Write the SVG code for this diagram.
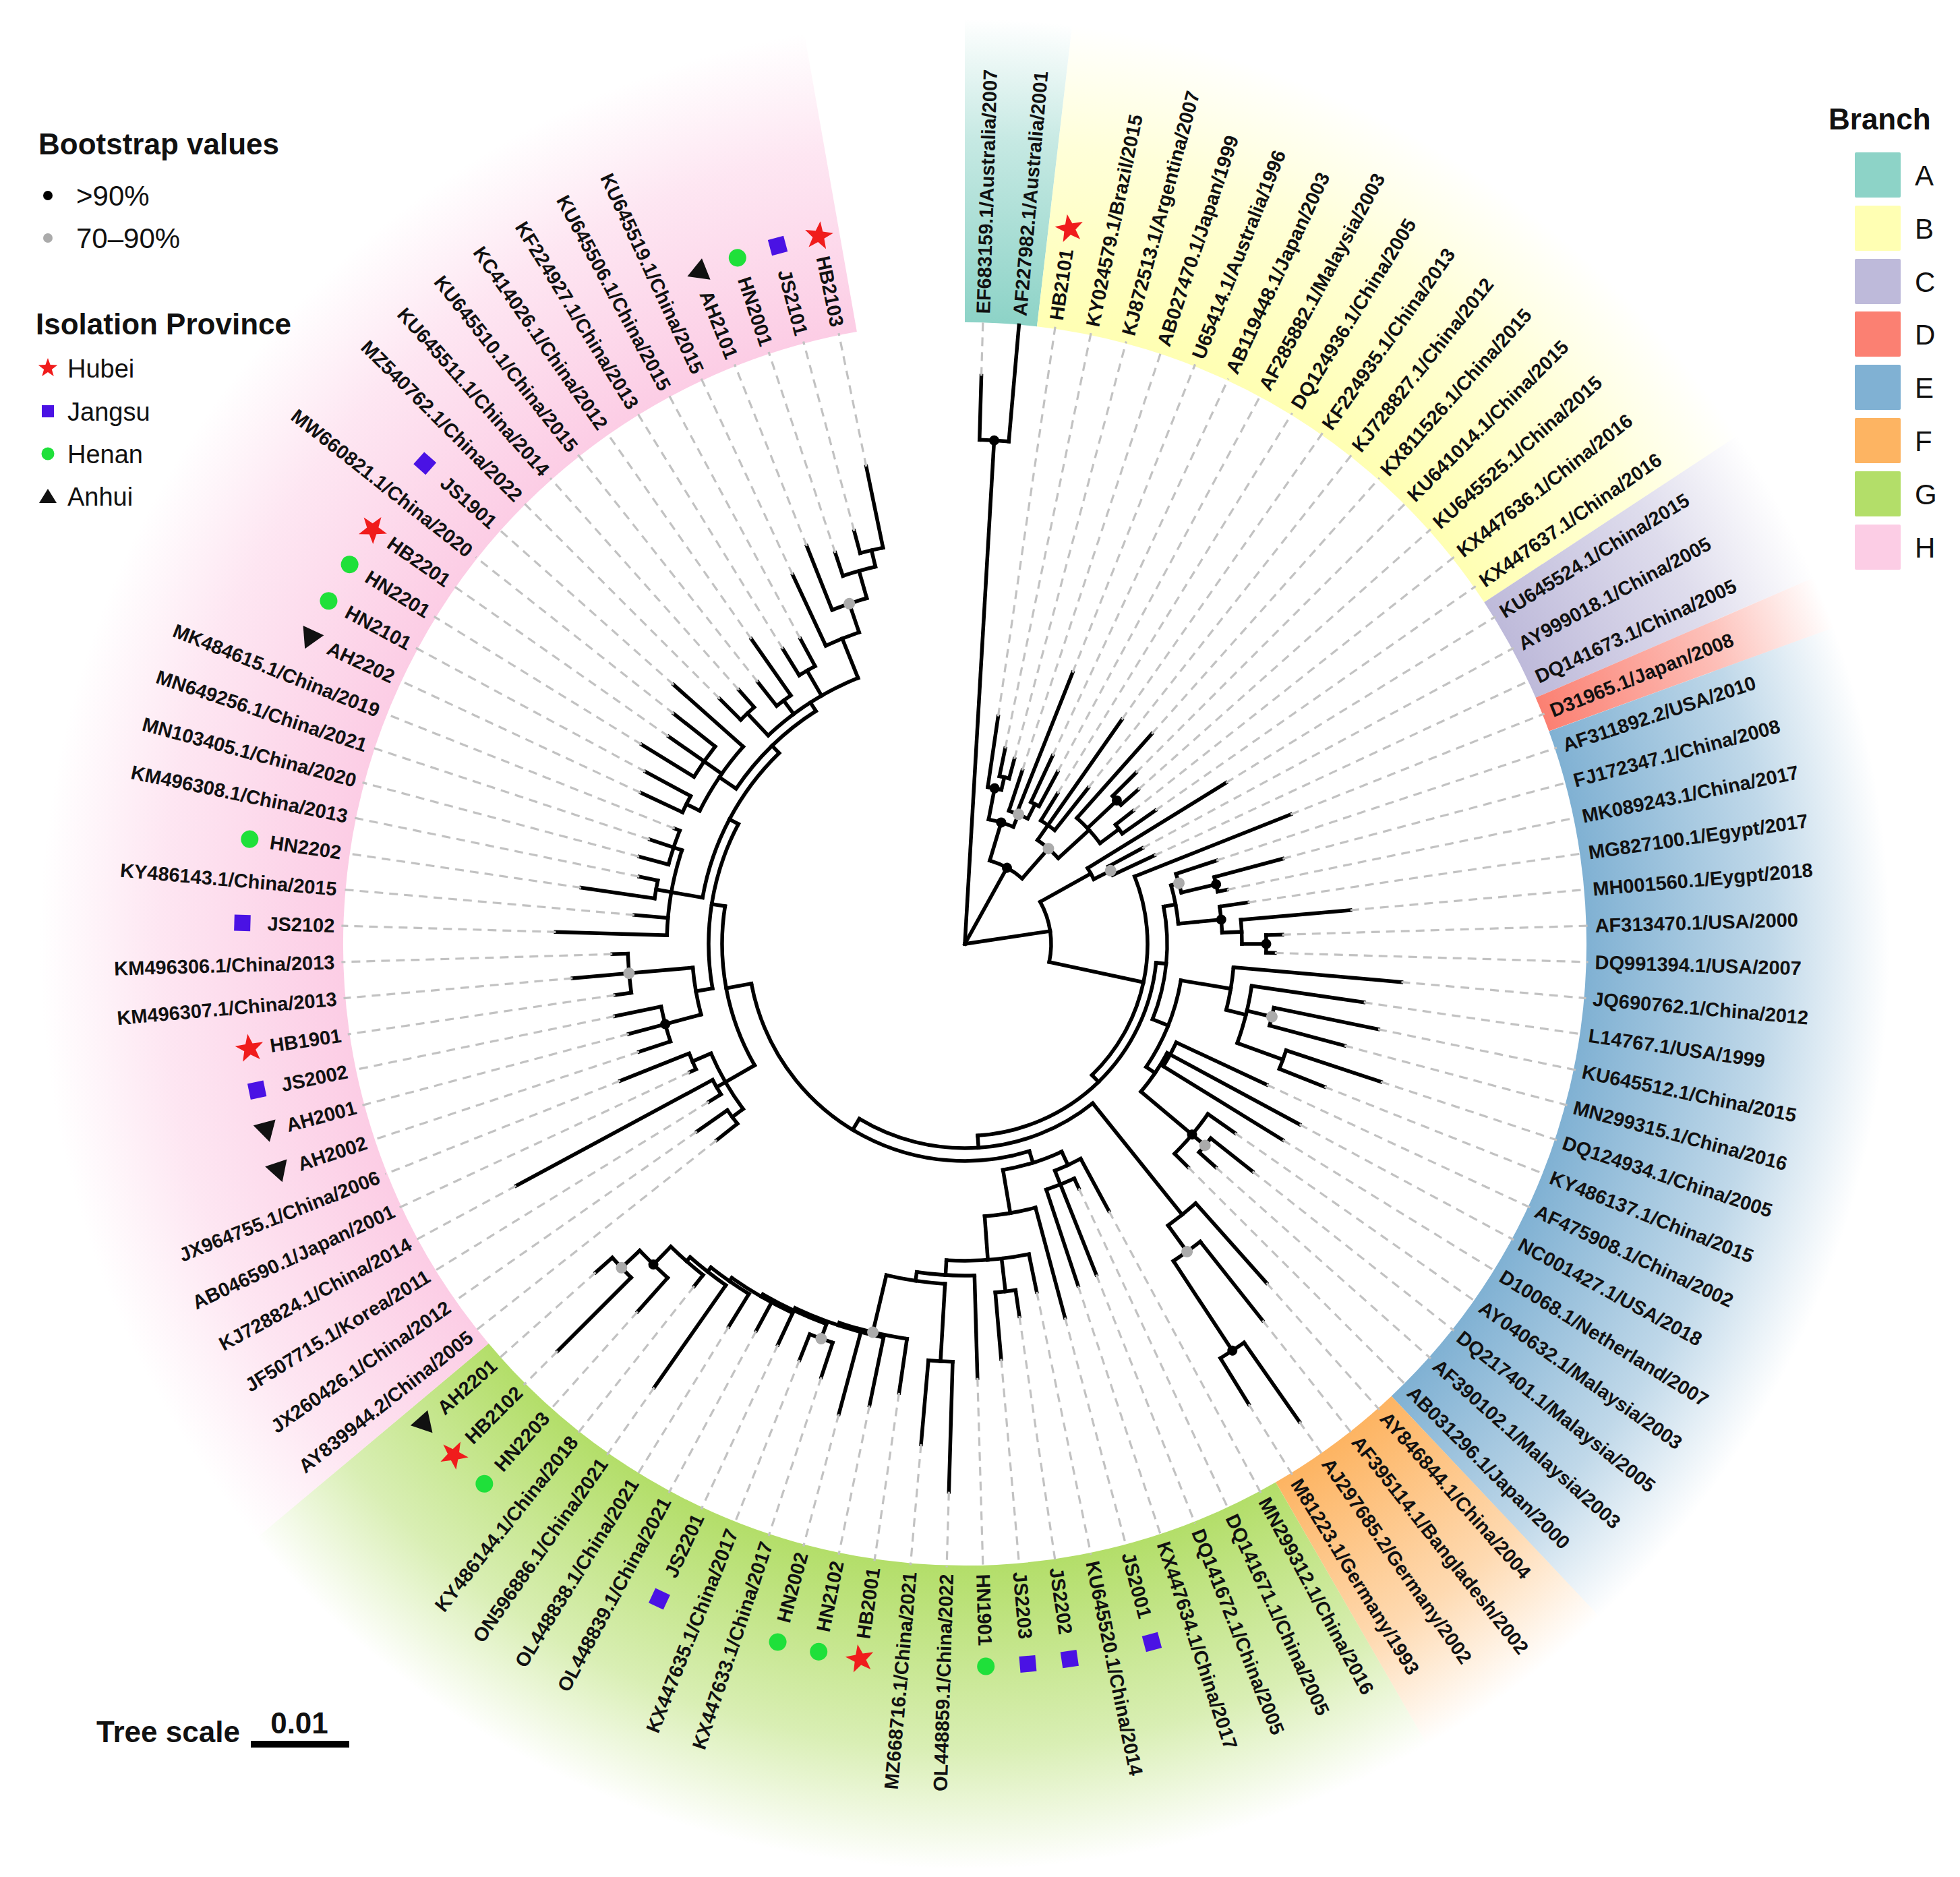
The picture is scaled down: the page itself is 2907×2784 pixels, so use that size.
<svg xmlns="http://www.w3.org/2000/svg" width="2907" height="2784" viewBox="0 0 2907 2784">
<style>
.tr path,.tr circle{fill:none;stroke:#000;stroke-width:5.5;stroke-linecap:square}
.tr .d{stroke:#c2c2c2;stroke-width:3.2;stroke-dasharray:13 9;stroke-linecap:butt}
.lb text{font-family:"Liberation Sans",Arial,sans-serif;font-weight:bold;font-size:29px;fill:#111}
.lb .l{text-anchor:end}
.kd{fill:#000}.gd{fill:#ababab}
.st{fill:#F01C1C}.sq{fill:#4A12E4}.ci{fill:#1FE03A}.tri{fill:#111}
.lg text{font-family:"Liberation Sans",Arial,sans-serif;fill:#111}
.lg .h{font-weight:bold;font-size:44px}
</style>
<defs>
<radialGradient id="gA" gradientUnits="userSpaceOnUse" cx="0" cy="0" r="1372"><stop offset=".672" stop-color="#8DD3C7"/><stop offset=".87" stop-color="#8DD3C7" stop-opacity=".5"/><stop offset="1" stop-color="#8DD3C7" stop-opacity="0"/></radialGradient>
<radialGradient id="gB" gradientUnits="userSpaceOnUse" cx="0" cy="0" r="1372"><stop offset=".672" stop-color="#FFFFB3"/><stop offset=".87" stop-color="#FFFFB3" stop-opacity=".5"/><stop offset="1" stop-color="#FFFFB3" stop-opacity="0"/></radialGradient>
<radialGradient id="gC" gradientUnits="userSpaceOnUse" cx="0" cy="0" r="1372"><stop offset=".672" stop-color="#BEBADA"/><stop offset=".87" stop-color="#BEBADA" stop-opacity=".5"/><stop offset="1" stop-color="#BEBADA" stop-opacity="0"/></radialGradient>
<radialGradient id="gD" gradientUnits="userSpaceOnUse" cx="0" cy="0" r="1372"><stop offset=".672" stop-color="#FB8072"/><stop offset=".87" stop-color="#FB8072" stop-opacity=".5"/><stop offset="1" stop-color="#FB8072" stop-opacity="0"/></radialGradient>
<radialGradient id="gE" gradientUnits="userSpaceOnUse" cx="0" cy="0" r="1372"><stop offset=".672" stop-color="#80B1D3"/><stop offset=".87" stop-color="#80B1D3" stop-opacity=".5"/><stop offset="1" stop-color="#80B1D3" stop-opacity="0"/></radialGradient>
<radialGradient id="gF" gradientUnits="userSpaceOnUse" cx="0" cy="0" r="1372"><stop offset=".672" stop-color="#FDB462"/><stop offset=".87" stop-color="#FDB462" stop-opacity=".5"/><stop offset="1" stop-color="#FDB462" stop-opacity="0"/></radialGradient>
<radialGradient id="gG" gradientUnits="userSpaceOnUse" cx="0" cy="0" r="1372"><stop offset=".672" stop-color="#B3DE69"/><stop offset=".87" stop-color="#B3DE69" stop-opacity=".5"/><stop offset="1" stop-color="#B3DE69" stop-opacity="0"/></radialGradient>
<radialGradient id="gH" gradientUnits="userSpaceOnUse" cx="0" cy="0" r="1372"><stop offset=".672" stop-color="#FCCDE5"/><stop offset=".87" stop-color="#FCCDE5" stop-opacity=".5"/><stop offset="1" stop-color="#FCCDE5" stop-opacity="0"/></radialGradient>
<path id="star" d="M0 -22L5.29 -7.28L20.92 -6.8L8.56 2.78L12.93 17.8L0 9L-12.93 17.8L-8.56 2.78L-20.92 -6.8L-5.29 -7.28Z"/>
</defs>
<rect width="2907" height="2784" fill="#fff"/>
<g id="wedges" transform="translate(1431 1400)" fill="none" stroke-width="450">
<circle r="1147" pathLength="360" stroke="url(#gA)" stroke-dasharray="6.667 360" transform="rotate(-90)"/>
<circle r="1147" pathLength="360" stroke="url(#gB)" stroke-dasharray="50 360" transform="rotate(-83.333)"/>
<circle r="1147" pathLength="360" stroke="url(#gC)" stroke-dasharray="10 360" transform="rotate(-33.333)"/>
<circle r="1147" pathLength="360" stroke="url(#gD)" stroke-dasharray="3.333 360" transform="rotate(-23.333)"/>
<circle r="1147" pathLength="360" stroke="url(#gE)" stroke-dasharray="66.667 360" transform="rotate(-20)"/>
<circle r="1147" pathLength="360" stroke="url(#gF)" stroke-dasharray="13.333 360" transform="rotate(46.667)"/>
<circle r="1147" pathLength="360" stroke="url(#gG)" stroke-dasharray="80 360" transform="rotate(60)"/>
<circle r="1147" pathLength="360" stroke="url(#gH)" stroke-dasharray="120 360" transform="rotate(140)"/>
</g>
<g id="connectors" class="tr" transform="translate(1431 1400)">
<path transform="rotate(3.333)" d="M0 0V-748"/>
<path transform="rotate(28.958)" d="M0 0V-129"/>
<path transform="rotate(81.48)" d="M0 0V-128"/>
<path transform="rotate(16.667)" d="M0-129V-188"/>
<path transform="rotate(10.833)" d="M0-188V-235"/>
<path transform="rotate(13.333)" d="M0-235V-254"/>
<path transform="rotate(22.5)" d="M0-188V-208"/>
<path transform="rotate(26.667)" d="M0-208V-232"/>
<path transform="rotate(41.25)" d="M0-129V-188"/>
<path transform="rotate(35)" d="M0-188V-215"/>
<path transform="rotate(47.5)" d="M0-188V-250"/>
<path transform="rotate(46.667)" d="M0-250V-310"/>
<path transform="rotate(53.333)" d="M0-250V-285"/>
<path transform="rotate(60.833)" d="M0-128V-214"/>
<path transform="rotate(63.333)" d="M0-214V-242"/>
<path transform="rotate(102.12)" d="M0-128V-271"/>
<path transform="rotate(135.9)" d="M0-271V-285"/>
<path transform="rotate(95.625)" d="M0-285V-300"/>
<path transform="rotate(79.375)" d="M0-300V-318"/>
<path transform="rotate(74.167)" d="M0-318V-330"/>
<path transform="rotate(76.667)" d="M0-330V-383"/>
<path transform="rotate(84.583)" d="M0-318V-382"/>
<path transform="rotate(87.5)" d="M0-382V-411"/>
<path transform="rotate(90)" d="M0-411V-447"/>
<path transform="rotate(111.875)" d="M0-300V-325"/>
<path transform="rotate(99.583)" d="M0-325V-400"/>
<path transform="rotate(104.167)" d="M0-400V-430"/>
<path transform="rotate(103.333)" d="M0-430V-468"/>
<path transform="rotate(110)" d="M0-430V-502"/>
<path transform="rotate(124.167)" d="M0-325V-341"/>
<path transform="rotate(118.333)" d="M0-341V-346"/>
<path transform="rotate(130)" d="M0-341V-465"/>
<path transform="rotate(176.17)" d="M0-285V-303"/>
<path transform="rotate(141.25)" d="M0-303V-515"/>
<path transform="rotate(144.167)" d="M0-515V-563"/>
<path transform="rotate(146.667)" d="M0-563V-722"/>
<path transform="rotate(211.09)" d="M0-303V-322"/>
<path transform="rotate(162.708)" d="M0-322V-340"/>
<path transform="rotate(155)" d="M0-340V-362"/>
<path transform="rotate(158.333)" d="M0-362V-384"/>
<path transform="rotate(170.417)" d="M0-340V-405"/>
<path transform="rotate(175.833)" d="M0-405V-470"/>
<path transform="rotate(173.333)" d="M0-470V-519"/>
<path transform="rotate(183.332)" d="M0-470V-492"/>
<path transform="rotate(188.33)" d="M0-492V-505"/>
<path transform="rotate(183.333)" d="M0-505V-620"/>
<path transform="rotate(193.327)" d="M0-505V-592"/>
<path transform="rotate(198.32)" d="M0-592V-596"/>
<path transform="rotate(204.974)" d="M0-596V-600"/>
<path transform="rotate(200)" d="M0-600V-623"/>
<path transform="rotate(209.948)" d="M0-600V-604"/>
<path transform="rotate(214.896)" d="M0-604V-610"/>
<path transform="rotate(218.125)" d="M0-610V-618"/>
<path transform="rotate(221.25)" d="M0-618V-626"/>
<path transform="rotate(224.167)" d="M0-626V-663"/>
<path transform="rotate(226.667)" d="M0-663V-700"/>
<path transform="rotate(259.47)" d="M0-322V-360"/>
<path transform="rotate(240)" d="M0-360V-425"/>
<path transform="rotate(233.333)" d="M0-410V-430"/>
<path transform="rotate(246.667)" d="M0-410V-440"/>
<path transform="rotate(278.95)" d="M0-360V-380"/>
<path transform="rotate(260)" d="M0-380V-405"/>
<path transform="rotate(255)" d="M0-405V-460"/>
<path transform="rotate(265)" d="M0-405V-500"/>
<path transform="rotate(297.89)" d="M0-380V-395"/>
<path transform="rotate(280)" d="M0-395V-465"/>
<path transform="rotate(288.333)" d="M0-442V-455"/>
<path transform="rotate(315.78)" d="M0-395V-410"/>
<path transform="rotate(304.167)" d="M0-410V-440"/>
<path transform="rotate(296.667)" d="M0-440V-462"/>
<path transform="rotate(305)" d="M0-440V-472"/>
<path transform="rotate(327.396)" d="M0-410V-425"/>
<path transform="rotate(316.667)" d="M0-425V-470"/>
<path transform="rotate(323.333)" d="M0-425V-450"/>
<path transform="rotate(330)" d="M0-425V-468"/>
<path transform="rotate(338.125)" d="M0-425V-488"/>
<path transform="rotate(341.25)" d="M0-488V-533"/>
<path transform="rotate(344.167)" d="M0-533V-575"/>
<path transform="rotate(346.667)" d="M0-575V-600"/>
<circle r="748" pathLength="360" stroke-dasharray="3.333 360" transform="rotate(-88.333)"/>
<circle r="129" pathLength="360" stroke-dasharray="24.583 360" transform="rotate(-73.333)"/>
<circle r="188" pathLength="360" stroke-dasharray="11.667 360" transform="rotate(-79.167)"/>
<circle r="235" pathLength="360" stroke-dasharray="5 360" transform="rotate(-81.667)"/>
<circle r="254" pathLength="360" stroke-dasharray="3.333 360" transform="rotate(-78.333)"/>
<circle r="208" pathLength="360" stroke-dasharray="8.333 360" transform="rotate(-71.667)"/>
<circle r="232" pathLength="360" stroke-dasharray="3.333 360" transform="rotate(-65)"/>
<circle r="188" pathLength="360" stroke-dasharray="12.5 360" transform="rotate(-55)"/>
<circle r="215" pathLength="360" stroke-dasharray="6.667 360" transform="rotate(-58.333)"/>
<circle r="250" pathLength="360" stroke-dasharray="11.667 360" transform="rotate(-48.333)"/>
<circle r="310" pathLength="360" stroke-dasharray="3.333 360" transform="rotate(-45)"/>
<circle r="285" pathLength="360" stroke-dasharray="3.333 360" transform="rotate(-38.333)"/>
<circle r="128" pathLength="360" stroke-dasharray="41.29 360" transform="rotate(-29.167)"/>
<circle r="214" pathLength="360" stroke-dasharray="5 360" transform="rotate(-31.667)"/>
<circle r="242" pathLength="360" stroke-dasharray="3.333 360" transform="rotate(-28.333)"/>
<circle r="271" pathLength="360" stroke-dasharray="67.57 360" transform="rotate(-21.667)"/>
<circle r="285" pathLength="360" stroke-dasharray="80.545 360" transform="rotate(5.625)"/>
<circle r="300" pathLength="360" stroke-dasharray="32.5 360" transform="rotate(-10.625)"/>
<circle r="318" pathLength="360" stroke-dasharray="10.416 360" transform="rotate(-15.833)"/>
<circle r="330" pathLength="360" stroke-dasharray="5 360" transform="rotate(-18.333)"/>
<circle r="383" pathLength="360" stroke-dasharray="3.333 360" transform="rotate(-15)"/>
<circle r="382" pathLength="360" stroke-dasharray="5.833 360" transform="rotate(-8.333)"/>
<circle r="411" pathLength="360" stroke-dasharray="5 360" transform="rotate(-5)"/>
<circle r="447" pathLength="360" stroke-dasharray="3.333 360" transform="rotate(-1.667)"/>
<circle r="325" pathLength="360" stroke-dasharray="24.584 360" transform="rotate(9.583)"/>
<circle r="400" pathLength="360" stroke-dasharray="9.167 360" transform="rotate(5)"/>
<circle r="430" pathLength="360" stroke-dasharray="11.667 360" transform="rotate(8.333)"/>
<circle r="468" pathLength="360" stroke-dasharray="3.333 360" transform="rotate(11.667)"/>
<circle r="502" pathLength="360" stroke-dasharray="3.333 360" transform="rotate(18.333)"/>
<circle r="341" pathLength="360" stroke-dasharray="11.667 360" transform="rotate(28.333)"/>
<circle r="346" pathLength="360" stroke-dasharray="6.667 360" transform="rotate(25)"/>
<circle r="440" pathLength="360" stroke-dasharray="10 360" transform="rotate(35)"/>
<circle r="465" pathLength="360" stroke-dasharray="3.333 360" transform="rotate(38.333)"/>
<circle r="303" pathLength="360" stroke-dasharray="69.84 360" transform="rotate(51.25)"/>
<circle r="515" pathLength="360" stroke-dasharray="5.833 360" transform="rotate(48.333)"/>
<circle r="563" pathLength="360" stroke-dasharray="5 360" transform="rotate(51.667)"/>
<circle r="722" pathLength="360" stroke-dasharray="3.333 360" transform="rotate(55)"/>
<circle r="322" pathLength="360" stroke-dasharray="96.762 360" transform="rotate(72.708)"/>
<circle r="340" pathLength="360" stroke-dasharray="15.417 360" transform="rotate(65)"/>
<circle r="362" pathLength="360" stroke-dasharray="6.667 360" transform="rotate(61.667)"/>
<circle r="384" pathLength="360" stroke-dasharray="6.667 360" transform="rotate(65)"/>
<circle r="405" pathLength="360" stroke-dasharray="10.833 360" transform="rotate(75)"/>
<circle r="470" pathLength="360" stroke-dasharray="15 360" transform="rotate(78.333)"/>
<circle r="519" pathLength="360" stroke-dasharray="3.333 360" transform="rotate(81.667)"/>
<circle r="492" pathLength="360" stroke-dasharray="10 360" transform="rotate(88.333)"/>
<circle r="505" pathLength="360" stroke-dasharray="9.994 360" transform="rotate(93.333)"/>
<circle r="620" pathLength="360" stroke-dasharray="3.333 360" transform="rotate(91.667)"/>
<circle r="592" pathLength="360" stroke-dasharray="9.987 360" transform="rotate(98.333)"/>
<circle r="596" pathLength="360" stroke-dasharray="13.307 360" transform="rotate(101.667)"/>
<circle r="600" pathLength="360" stroke-dasharray="9.948 360" transform="rotate(110)"/>
<circle r="623" pathLength="360" stroke-dasharray="3.333 360" transform="rotate(108.333)"/>
<circle r="604" pathLength="360" stroke-dasharray="9.896 360" transform="rotate(115)"/>
<circle r="610" pathLength="360" stroke-dasharray="6.458 360" transform="rotate(121.667)"/>
<circle r="618" pathLength="360" stroke-dasharray="6.25 360" transform="rotate(125)"/>
<circle r="626" pathLength="360" stroke-dasharray="5.833 360" transform="rotate(128.333)"/>
<circle r="663" pathLength="360" stroke-dasharray="5 360" transform="rotate(131.667)"/>
<circle r="700" pathLength="360" stroke-dasharray="3.333 360" transform="rotate(135)"/>
<circle r="360" pathLength="360" stroke-dasharray="38.95 360" transform="rotate(150)"/>
<circle r="410" pathLength="360" stroke-dasharray="13.333 360" transform="rotate(143.333)"/>
<circle r="430" pathLength="360" stroke-dasharray="3.333 360" transform="rotate(141.667)"/>
<circle r="425" pathLength="360" stroke-dasharray="3.333 360" transform="rotate(148.333)"/>
<circle r="440" pathLength="360" stroke-dasharray="3.333 360" transform="rotate(155)"/>
<circle r="380" pathLength="360" stroke-dasharray="37.89 360" transform="rotate(170)"/>
<circle r="405" pathLength="360" stroke-dasharray="10 360" transform="rotate(165)"/>
<circle r="460" pathLength="360" stroke-dasharray="6.667 360" transform="rotate(161.667)"/>
<circle r="500" pathLength="360" stroke-dasharray="6.667 360" transform="rotate(171.667)"/>
<circle r="395" pathLength="360" stroke-dasharray="35.78 360" transform="rotate(190)"/>
<circle r="442" pathLength="360" stroke-dasharray="16.667 360" transform="rotate(181.667)"/>
<circle r="465" pathLength="360" stroke-dasharray="3.333 360" transform="rotate(188.333)"/>
<circle r="455" pathLength="360" stroke-dasharray="6.667 360" transform="rotate(195)"/>
<circle r="410" pathLength="360" stroke-dasharray="23.229 360" transform="rotate(214.167)"/>
<circle r="440" pathLength="360" stroke-dasharray="15 360" transform="rotate(206.667)"/>
<circle r="462" pathLength="360" stroke-dasharray="3.333 360" transform="rotate(205)"/>
<circle r="472" pathLength="360" stroke-dasharray="6.667 360" transform="rotate(211.667)"/>
<circle r="425" pathLength="360" stroke-dasharray="21.458 360" transform="rotate(226.667)"/>
<circle r="470" pathLength="360" stroke-dasharray="3.333 360" transform="rotate(225)"/>
<circle r="450" pathLength="360" stroke-dasharray="3.333 360" transform="rotate(231.667)"/>
<circle r="468" pathLength="360" stroke-dasharray="3.333 360" transform="rotate(238.333)"/>
<circle r="488" pathLength="360" stroke-dasharray="6.25 360" transform="rotate(245)"/>
<circle r="533" pathLength="360" stroke-dasharray="5.833 360" transform="rotate(248.333)"/>
<circle r="575" pathLength="360" stroke-dasharray="5 360" transform="rotate(251.667)"/>
<circle r="600" pathLength="360" stroke-dasharray="3.333 360" transform="rotate(255)"/>
<g transform="rotate(1.667)"><path d="M0-748V-843"/><path class="d" d="M0-843V-925"/></g>
<g transform="rotate(5)"><path d="M0-748V-921"/></g>
<g transform="rotate(8.333)"><path d="M0-235V-341"/><path class="d" d="M0-341V-925"/></g>
<g transform="rotate(11.667)"><path d="M0-254V-296"/><path class="d" d="M0-296V-925"/></g>
<g transform="rotate(15)"><path d="M0-254V-284"/><path class="d" d="M0-284V-925"/></g>
<g transform="rotate(18.333)"><path d="M0-208V-271"/><path class="d" d="M0-271V-925"/></g>
<g transform="rotate(21.667)"><path d="M0-208V-433"/><path class="d" d="M0-433V-925"/></g>
<g transform="rotate(25)"><path d="M0-232V-308"/><path class="d" d="M0-308V-925"/></g>
<g transform="rotate(28.333)"><path d="M0-232V-290"/><path class="d" d="M0-290V-925"/></g>
<g transform="rotate(31.667)"><path d="M0-215V-262"/><path class="d" d="M0-262V-925"/></g>
<g transform="rotate(35)"><path d="M0-215V-406"/><path class="d" d="M0-406V-925"/></g>
<g transform="rotate(38.333)"><path d="M0-215V-295"/><path class="d" d="M0-295V-925"/></g>
<g transform="rotate(41.667)"><path d="M0-250V-417"/><path class="d" d="M0-417V-925"/></g>
<g transform="rotate(45)"><path d="M0-310V-359"/><path class="d" d="M0-359V-925"/></g>
<g transform="rotate(48.333)"><path d="M0-310V-344"/><path class="d" d="M0-344V-925"/></g>
<g transform="rotate(51.667)"><path d="M0-285V-318"/><path class="d" d="M0-318V-925"/></g>
<g transform="rotate(55)"><path d="M0-285V-345"/><path class="d" d="M0-345V-925"/></g>
<g transform="rotate(58.333)"><path d="M0-214V-455"/><path class="d" d="M0-455V-925"/></g>
<g transform="rotate(61.667)"><path d="M0-242V-299"/><path class="d" d="M0-299V-925"/></g>
<g transform="rotate(65)"><path d="M0-242V-310"/><path class="d" d="M0-310V-925"/></g>
<g transform="rotate(68.333)"><path d="M0-271V-520"/><path class="d" d="M0-520V-925"/></g>
<g transform="rotate(71.667)"><path d="M0-330V-393"/><path class="d" d="M0-393V-925"/></g>
<g transform="rotate(75)"><path d="M0-383V-488"/><path class="d" d="M0-488V-925"/></g>
<g transform="rotate(78.333)"><path d="M0-383V-397"/><path class="d" d="M0-397V-925"/></g>
<g transform="rotate(81.667)"><path d="M0-382V-424"/><path class="d" d="M0-424V-925"/></g>
<g transform="rotate(85)"><path d="M0-411V-574"/><path class="d" d="M0-574V-925"/></g>
<g transform="rotate(88.333)"><path d="M0-447V-471"/><path class="d" d="M0-471V-925"/></g>
<g transform="rotate(91.667)"><path d="M0-447V-460"/><path class="d" d="M0-460V-925"/></g>
<g transform="rotate(95)"><path d="M0-400V-650"/><path class="d" d="M0-650V-925"/></g>
<g transform="rotate(98.333)"><path d="M0-430V-598"/><path class="d" d="M0-598V-925"/></g>
<g transform="rotate(101.667)"><path d="M0-468V-626"/><path class="d" d="M0-626V-925"/></g>
<g transform="rotate(105)"><path d="M0-468V-583"/><path class="d" d="M0-583V-925"/></g>
<g transform="rotate(108.333)"><path d="M0-502V-650"/><path class="d" d="M0-650V-925"/></g>
<g transform="rotate(111.667)"><path d="M0-502V-574"/><path class="d" d="M0-574V-925"/></g>
<g transform="rotate(115)"><path d="M0-346V-494"/><path class="d" d="M0-494V-925"/></g>
<g transform="rotate(118.333)"><path d="M0-346V-564"/><path class="d" d="M0-564V-925"/></g>
<g transform="rotate(121.667)"><path d="M0-346V-554"/><path class="d" d="M0-554V-925"/></g>
<g transform="rotate(125)"><path d="M0-440V-489"/><path class="d" d="M0-489V-925"/></g>
<g transform="rotate(128.333)"><path d="M0-465V-544"/><path class="d" d="M0-544V-925"/></g>
<g transform="rotate(131.667)"><path d="M0-465V-498"/><path class="d" d="M0-498V-925"/></g>
<g transform="rotate(135)"><path d="M0-440V-468"/><path class="d" d="M0-468V-925"/></g>
<g transform="rotate(138.333)"><path d="M0-515V-673"/><path class="d" d="M0-673V-925"/></g>
<g transform="rotate(141.667)"><path d="M0-563V-712"/><path class="d" d="M0-712V-925"/></g>
<g transform="rotate(145)"><path d="M0-722V-865"/><path class="d" d="M0-865V-925"/></g>
<g transform="rotate(148.333)"><path d="M0-722V-802"/><path class="d" d="M0-802V-925"/></g>
<g transform="rotate(151.667)"><path d="M0-362V-450"/><path class="d" d="M0-450V-925"/></g>
<g transform="rotate(155)"><path d="M0-384V-400"/><path class="d" d="M0-400V-925"/></g>
<g transform="rotate(158.333)"><path d="M0-384V-528"/><path class="d" d="M0-528V-925"/></g>
<g transform="rotate(161.667)"><path d="M0-384V-534"/><path class="d" d="M0-534V-925"/></g>
<g transform="rotate(165)"><path d="M0-405V-574"/><path class="d" d="M0-574V-925"/></g>
<g transform="rotate(168.333)"><path d="M0-470V-527"/><path class="d" d="M0-527V-925"/></g>
<g transform="rotate(171.667)"><path d="M0-519V-558"/><path class="d" d="M0-558V-925"/></g>
<g transform="rotate(175)"><path d="M0-519V-618"/><path class="d" d="M0-618V-925"/></g>
<g transform="rotate(178.333)"><path d="M0-492V-644"/><path class="d" d="M0-644V-925"/></g>
<g transform="rotate(181.667)"><path d="M0-620V-813"/><path class="d" d="M0-813V-925"/></g>
<g transform="rotate(185)"><path d="M0-620V-745"/><path class="d" d="M0-745V-925"/></g>
<g transform="rotate(188.333)"><path d="M0-592V-673"/><path class="d" d="M0-673V-925"/></g>
<g transform="rotate(191.667)"><path d="M0-596V-699"/><path class="d" d="M0-699V-925"/></g>
<g transform="rotate(195)"><path d="M0-596V-722"/><path class="d" d="M0-722V-925"/></g>
<g transform="rotate(198.333)"><path d="M0-623V-677"/><path class="d" d="M0-677V-925"/></g>
<g transform="rotate(201.667)"><path d="M0-623V-664"/><path class="d" d="M0-664V-925"/></g>
<g transform="rotate(205)"><path d="M0-604V-656"/><path class="d" d="M0-656V-925"/></g>
<g transform="rotate(208.333)"><path d="M0-604V-652"/><path class="d" d="M0-652V-925"/></g>
<g transform="rotate(211.667)"><path d="M0-610V-667"/><path class="d" d="M0-667V-925"/></g>
<g transform="rotate(215)"><path d="M0-618V-803"/><path class="d" d="M0-803V-925"/></g>
<g transform="rotate(218.333)"><path d="M0-626V-647"/><path class="d" d="M0-647V-925"/></g>
<g transform="rotate(221.667)"><path d="M0-663V-730"/><path class="d" d="M0-730V-925"/></g>
<g transform="rotate(225)"><path d="M0-700V-854"/><path class="d" d="M0-854V-925"/></g>
<g transform="rotate(228.333)"><path d="M0-700V-733"/><path class="d" d="M0-733V-925"/></g>
<g transform="rotate(231.667)"><path d="M0-430V-469"/><path class="d" d="M0-469V-925"/></g>
<g transform="rotate(235)"><path d="M0-430V-485"/><path class="d" d="M0-485V-925"/></g>
<g transform="rotate(238.333)"><path d="M0-425V-446"/><path class="d" d="M0-446V-925"/></g>
<g transform="rotate(241.667)"><path d="M0-425V-756"/><path class="d" d="M0-756V-925"/></g>
<g transform="rotate(245)"><path d="M0-440V-450"/><path class="d" d="M0-450V-925"/></g>
<g transform="rotate(248.333)"><path d="M0-440V-550"/><path class="d" d="M0-550V-925"/></g>
<g transform="rotate(251.667)"><path d="M0-460V-509"/><path class="d" d="M0-509V-925"/></g>
<g transform="rotate(255)"><path d="M0-460V-516"/><path class="d" d="M0-516V-925"/></g>
<g transform="rotate(258.333)"><path d="M0-460V-530"/><path class="d" d="M0-530V-925"/></g>
<g transform="rotate(261.667)"><path d="M0-500V-524"/><path class="d" d="M0-524V-925"/></g>
<g transform="rotate(265)"><path d="M0-500V-584"/><path class="d" d="M0-584V-925"/></g>
<g transform="rotate(268.333)"><path d="M0-500V-523"/><path class="d" d="M0-523V-925"/></g>
<g transform="rotate(271.667)"><path d="M0-442V-607"/><path class="d" d="M0-607V-925"/></g>
<g transform="rotate(275)"><path d="M0-442V-492"/><path class="d" d="M0-492V-925"/></g>
<g transform="rotate(278.333)"><path d="M0-465V-575"/><path class="d" d="M0-575V-925"/></g>
<g transform="rotate(281.667)"><path d="M0-465V-493"/><path class="d" d="M0-493V-925"/></g>
<g transform="rotate(285)"><path d="M0-455V-500"/><path class="d" d="M0-500V-925"/></g>
<g transform="rotate(288.333)"><path d="M0-455V-492"/><path class="d" d="M0-492V-925"/></g>
<g transform="rotate(291.667)"><path d="M0-455V-463"/><path class="d" d="M0-463V-925"/></g>
<g transform="rotate(295)"><path d="M0-462V-530"/><path class="d" d="M0-530V-925"/></g>
<g transform="rotate(298.333)"><path d="M0-462V-538"/><path class="d" d="M0-538V-925"/></g>
<g transform="rotate(301.667)"><path d="M0-472V-563"/><path class="d" d="M0-563V-925"/></g>
<g transform="rotate(305)"><path d="M0-472V-536"/><path class="d" d="M0-536V-925"/></g>
<g transform="rotate(308.333)"><path d="M0-472V-550"/><path class="d" d="M0-550V-925"/></g>
<g transform="rotate(311.667)"><path d="M0-440V-578"/><path class="d" d="M0-578V-925"/></g>
<g transform="rotate(315)"><path d="M0-470V-514"/><path class="d" d="M0-514V-925"/></g>
<g transform="rotate(318.333)"><path d="M0-470V-504"/><path class="d" d="M0-504V-925"/></g>
<g transform="rotate(321.667)"><path d="M0-450V-495"/><path class="d" d="M0-495V-925"/></g>
<g transform="rotate(325)"><path d="M0-450V-552"/><path class="d" d="M0-552V-925"/></g>
<g transform="rotate(328.333)"><path d="M0-468V-514"/><path class="d" d="M0-514V-925"/></g>
<g transform="rotate(331.667)"><path d="M0-468V-514"/><path class="d" d="M0-514V-925"/></g>
<g transform="rotate(335)"><path d="M0-488V-604"/><path class="d" d="M0-604V-925"/></g>
<g transform="rotate(338.333)"><path d="M0-533V-635"/><path class="d" d="M0-635V-925"/></g>
<g transform="rotate(341.667)"><path d="M0-575V-611"/><path class="d" d="M0-611V-925"/></g>
<g transform="rotate(345)"><path d="M0-600V-634"/><path class="d" d="M0-634V-925"/></g>
<g transform="rotate(348.333)"><path d="M0-600V-723"/><path class="d" d="M0-723V-925"/></g>
</g>
<g id="bootstrap-dots" transform="translate(1431 1400)">
<circle class="kd" r="7.5" cy="-748" transform="rotate(3.333)"/>
<circle class="kd" r="7.5" cy="-129" transform="rotate(28.958)"/>
<circle class="kd" r="7.5" cy="-188" transform="rotate(16.667)"/>
<circle class="kd" r="7.5" cy="-235" transform="rotate(10.833)"/>
<circle class="kd" r="7.5" cy="-310" transform="rotate(46.667)"/>
<circle class="kd" r="7.5" cy="-383" transform="rotate(76.667)"/>
<circle class="kd" r="7.5" cy="-382" transform="rotate(84.583)"/>
<circle class="kd" r="7.5" cy="-447" transform="rotate(90)"/>
<circle class="kd" r="7.5" cy="-440" transform="rotate(130)"/>
<circle class="kd" r="7.5" cy="-722" transform="rotate(146.667)"/>
<circle class="kd" r="7.5" cy="-663" transform="rotate(224.167)"/>
<circle class="kd" r="7.5" cy="-460" transform="rotate(255)"/>
<circle class="gd" r="8.5" cy="-208" transform="rotate(22.5)"/>
<circle class="gd" r="8.5" cy="-188" transform="rotate(41.25)"/>
<circle class="gd" r="8.5" cy="-242" transform="rotate(63.333)"/>
<circle class="gd" r="8.5" cy="-330" transform="rotate(74.167)"/>
<circle class="gd" r="8.5" cy="-468" transform="rotate(103.333)"/>
<circle class="gd" r="8.5" cy="-465" transform="rotate(130)"/>
<circle class="gd" r="8.5" cy="-563" transform="rotate(144.167)"/>
<circle class="gd" r="8.5" cy="-592" transform="rotate(193.327)"/>
<circle class="gd" r="8.5" cy="-623" transform="rotate(200)"/>
<circle class="gd" r="8.5" cy="-700" transform="rotate(226.667)"/>
<circle class="gd" r="8.5" cy="-500" transform="rotate(265)"/>
<circle class="gd" r="8.5" cy="-533" transform="rotate(341.25)"/>
</g>
<g id="leaves" class="lb" transform="translate(1431 1400)">
<g id="leaf-EF683159.1" transform="rotate(-88.333)"><text x="935" dy=".35em">EF683159.1/Australia/2007</text></g>
<g id="leaf-AF227982.1" transform="rotate(-85)"><text x="935" dy=".35em">AF227982.1/Australia/2001</text></g>
<g id="leaf-HB2101" transform="rotate(-81.667)"><text x="935" dy=".35em">HB2101</text><use href="#star" x="1072" class="st"/></g>
<g id="leaf-KY024579.1" transform="rotate(-78.333)"><text x="935" dy=".35em">KY024579.1/Brazil/2015</text></g>
<g id="leaf-KJ872513.1" transform="rotate(-75)"><text x="935" dy=".35em">KJ872513.1/Argentina/2007</text></g>
<g id="leaf-AB027470.1" transform="rotate(-71.667)"><text x="935" dy=".35em">AB027470.1/Japan/1999</text></g>
<g id="leaf-U65414.1" transform="rotate(-68.333)"><text x="935" dy=".35em">U65414.1/Australia/1996</text></g>
<g id="leaf-AB119448.1" transform="rotate(-65)"><text x="935" dy=".35em">AB119448.1/Japan/2003</text></g>
<g id="leaf-AF285882.1" transform="rotate(-61.667)"><text x="935" dy=".35em">AF285882.1/Malaysia/2003</text></g>
<g id="leaf-DQ124936.1" transform="rotate(-58.333)"><text x="935" dy=".35em">DQ124936.1/China/2005</text></g>
<g id="leaf-KF224935.1" transform="rotate(-55)"><text x="935" dy=".35em">KF224935.1/China/2013</text></g>
<g id="leaf-KJ728827.1" transform="rotate(-51.667)"><text x="935" dy=".35em">KJ728827.1/China/2012</text></g>
<g id="leaf-KX811526.1" transform="rotate(-48.333)"><text x="935" dy=".35em">KX811526.1/China/2015</text></g>
<g id="leaf-KU641014.1" transform="rotate(-45)"><text x="935" dy=".35em">KU641014.1/China/2015</text></g>
<g id="leaf-KU645525.1" transform="rotate(-41.667)"><text x="935" dy=".35em">KU645525.1/China/2015</text></g>
<g id="leaf-KX447636.1" transform="rotate(-38.333)"><text x="935" dy=".35em">KX447636.1/China/2016</text></g>
<g id="leaf-KX447637.1" transform="rotate(-35)"><text x="935" dy=".35em">KX447637.1/China/2016</text></g>
<g id="leaf-KU645524.1" transform="rotate(-31.667)"><text x="935" dy=".35em">KU645524.1/China/2015</text></g>
<g id="leaf-AY999018.1" transform="rotate(-28.333)"><text x="935" dy=".35em">AY999018.1/China/2005</text></g>
<g id="leaf-DQ141673.1" transform="rotate(-25)"><text x="935" dy=".35em">DQ141673.1/China/2005</text></g>
<g id="leaf-D31965.1" transform="rotate(-21.667)"><text x="935" dy=".35em">D31965.1/Japan/2008</text></g>
<g id="leaf-AF311892.2" transform="rotate(-18.333)"><text x="935" dy=".35em">AF311892.2/USA/2010</text></g>
<g id="leaf-FJ172347.1" transform="rotate(-15)"><text x="935" dy=".35em">FJ172347.1/China/2008</text></g>
<g id="leaf-MK089243.1" transform="rotate(-11.667)"><text x="935" dy=".35em">MK089243.1/China/2017</text></g>
<g id="leaf-MG827100.1" transform="rotate(-8.333)"><text x="935" dy=".35em">MG827100.1/Egypt/2017</text></g>
<g id="leaf-MH001560.1" transform="rotate(-5)"><text x="935" dy=".35em">MH001560.1/Eygpt/2018</text></g>
<g id="leaf-AF313470.1" transform="rotate(-1.667)"><text x="935" dy=".35em">AF313470.1/USA/2000</text></g>
<g id="leaf-DQ991394.1" transform="rotate(1.667)"><text x="935" dy=".35em">DQ991394.1/USA/2007</text></g>
<g id="leaf-JQ690762.1" transform="rotate(5)"><text x="935" dy=".35em">JQ690762.1/China/2012</text></g>
<g id="leaf-L14767.1" transform="rotate(8.333)"><text x="935" dy=".35em">L14767.1/USA/1999</text></g>
<g id="leaf-KU645512.1" transform="rotate(11.667)"><text x="935" dy=".35em">KU645512.1/China/2015</text></g>
<g id="leaf-MN299315.1" transform="rotate(15)"><text x="935" dy=".35em">MN299315.1/China/2016</text></g>
<g id="leaf-DQ124934.1" transform="rotate(18.333)"><text x="935" dy=".35em">DQ124934.1/China/2005</text></g>
<g id="leaf-KY486137.1" transform="rotate(21.667)"><text x="935" dy=".35em">KY486137.1/China/2015</text></g>
<g id="leaf-AF475908.1" transform="rotate(25)"><text x="935" dy=".35em">AF475908.1/China/2002</text></g>
<g id="leaf-NC001427.1" transform="rotate(28.333)"><text x="935" dy=".35em">NC001427.1/USA/2018</text></g>
<g id="leaf-D10068.1" transform="rotate(31.667)"><text x="935" dy=".35em">D10068.1/Netherland/2007</text></g>
<g id="leaf-AY040632.1" transform="rotate(35)"><text x="935" dy=".35em">AY040632.1/Malaysia/2003</text></g>
<g id="leaf-DQ217401.1" transform="rotate(38.333)"><text x="935" dy=".35em">DQ217401.1/Malaysia/2005</text></g>
<g id="leaf-AF390102.1" transform="rotate(41.667)"><text x="935" dy=".35em">AF390102.1/Malaysia/2003</text></g>
<g id="leaf-AB031296.1" transform="rotate(45)"><text x="935" dy=".35em">AB031296.1/Japan/2000</text></g>
<g id="leaf-AY846844.1" transform="rotate(48.333)"><text x="935" dy=".35em">AY846844.1/China/2004</text></g>
<g id="leaf-AF395114.1" transform="rotate(51.667)"><text x="935" dy=".35em">AF395114.1/Bangladesh/2002</text></g>
<g id="leaf-AJ297685.2" transform="rotate(55)"><text x="935" dy=".35em">AJ297685.2/Germany/2002</text></g>
<g id="leaf-M81223.1" transform="rotate(58.333)"><text x="935" dy=".35em">M81223.1/Germany/1993</text></g>
<g id="leaf-MN299312.1" transform="rotate(61.667)"><text x="935" dy=".35em">MN299312.1/China/2016</text></g>
<g id="leaf-DQ141671.1" transform="rotate(65)"><text x="935" dy=".35em">DQ141671.1/China/2005</text></g>
<g id="leaf-DQ141672.1" transform="rotate(68.333)"><text x="935" dy=".35em">DQ141672.1/China/2005</text></g>
<g id="leaf-KX447634.1" transform="rotate(71.667)"><text x="935" dy=".35em">KX447634.1/China/2017</text></g>
<g id="leaf-JS2001" transform="rotate(75)"><text x="935" dy=".35em">JS2001</text><rect class="sq" x="1060" y="-12" width="24" height="24"/></g>
<g id="leaf-KU645520.1" transform="rotate(78.333)"><text x="935" dy=".35em">KU645520.1/China/2014</text></g>
<g id="leaf-JS2202" transform="rotate(81.667)"><text x="935" dy=".35em">JS2202</text><rect class="sq" x="1060" y="-12" width="24" height="24"/></g>
<g id="leaf-JS2203" transform="rotate(85)"><text x="935" dy=".35em">JS2203</text><rect class="sq" x="1060" y="-12" width="24" height="24"/></g>
<g id="leaf-HN1901" transform="rotate(88.333)"><text x="935" dy=".35em">HN1901</text><circle class="ci" cx="1072" r="13"/></g>
<g id="leaf-OL448859.1" transform="rotate(-88.333)"><text class="l" x="-935" dy=".35em">OL448859.1/China/2022</text></g>
<g id="leaf-MZ668716.1" transform="rotate(-85)"><text class="l" x="-935" dy=".35em">MZ668716.1/China/2021</text></g>
<g id="leaf-HB2001" transform="rotate(-81.667)"><text class="l" x="-935" dy=".35em">HB2001</text><use href="#star" x="-1072" class="st"/></g>
<g id="leaf-HN2102" transform="rotate(-78.333)"><text class="l" x="-935" dy=".35em">HN2102</text><circle class="ci" cx="-1072" r="13"/></g>
<g id="leaf-HN2002" transform="rotate(-75)"><text class="l" x="-935" dy=".35em">HN2002</text><circle class="ci" cx="-1072" r="13"/></g>
<g id="leaf-KX447633.1" transform="rotate(-71.667)"><text class="l" x="-935" dy=".35em">KX447633.1/China/2017</text></g>
<g id="leaf-KX447635.1" transform="rotate(-68.333)"><text class="l" x="-935" dy=".35em">KX447635.1/China/2017</text></g>
<g id="leaf-JS2201" transform="rotate(-65)"><text class="l" x="-935" dy=".35em">JS2201</text><rect class="sq" x="-1084" y="-12" width="24" height="24"/></g>
<g id="leaf-OL448839.1" transform="rotate(-61.667)"><text class="l" x="-935" dy=".35em">OL448839.1/China/2021</text></g>
<g id="leaf-OL448838.1" transform="rotate(-58.333)"><text class="l" x="-935" dy=".35em">OL448838.1/China/2021</text></g>
<g id="leaf-ON596886.1" transform="rotate(-55)"><text class="l" x="-935" dy=".35em">ON596886.1/China/2021</text></g>
<g id="leaf-KY486144.1" transform="rotate(-51.667)"><text class="l" x="-935" dy=".35em">KY486144.1/China/2018</text></g>
<g id="leaf-HN2203" transform="rotate(-48.333)"><text class="l" x="-935" dy=".35em">HN2203</text><circle class="ci" cx="-1072" r="13"/></g>
<g id="leaf-HB2102" transform="rotate(-45)"><text class="l" x="-935" dy=".35em">HB2102</text><use href="#star" x="-1072" class="st"/></g>
<g id="leaf-AH2201" transform="rotate(-41.667)"><text class="l" x="-935" dy=".35em">AH2201</text><path class="tri" transform="translate(-1072 0)" d="M-17-13H17L0 17Z"/></g>
<g id="leaf-AY839944.2" transform="rotate(-38.333)"><text class="l" x="-935" dy=".35em">AY839944.2/China/2005</text></g>
<g id="leaf-JX260426.1" transform="rotate(-35)"><text class="l" x="-935" dy=".35em">JX260426.1/China/2012</text></g>
<g id="leaf-JF507715.1" transform="rotate(-31.667)"><text class="l" x="-935" dy=".35em">JF507715.1/Korea/2011</text></g>
<g id="leaf-KJ728824.1" transform="rotate(-28.333)"><text class="l" x="-935" dy=".35em">KJ728824.1/China/2014</text></g>
<g id="leaf-AB046590.1" transform="rotate(-25)"><text class="l" x="-935" dy=".35em">AB046590.1/Japan/2001</text></g>
<g id="leaf-JX964755.1" transform="rotate(-21.667)"><text class="l" x="-935" dy=".35em">JX964755.1/China/2006</text></g>
<g id="leaf-AH2002" transform="rotate(-18.333)"><text class="l" x="-935" dy=".35em">AH2002</text><path class="tri" transform="translate(-1072 0)" d="M-17-13H17L0 17Z"/></g>
<g id="leaf-AH2001" transform="rotate(-15)"><text class="l" x="-935" dy=".35em">AH2001</text><path class="tri" transform="translate(-1072 0)" d="M-17-13H17L0 17Z"/></g>
<g id="leaf-JS2002" transform="rotate(-11.667)"><text class="l" x="-935" dy=".35em">JS2002</text><rect class="sq" x="-1084" y="-12" width="24" height="24"/></g>
<g id="leaf-HB1901" transform="rotate(-8.333)"><text class="l" x="-935" dy=".35em">HB1901</text><use href="#star" x="-1072" class="st"/></g>
<g id="leaf-KM496307.1" transform="rotate(-5)"><text class="l" x="-935" dy=".35em">KM496307.1/China/2013</text></g>
<g id="leaf-KM496306.1" transform="rotate(-1.667)"><text class="l" x="-935" dy=".35em">KM496306.1/China/2013</text></g>
<g id="leaf-JS2102" transform="rotate(1.667)"><text class="l" x="-935" dy=".35em">JS2102</text><rect class="sq" x="-1084" y="-12" width="24" height="24"/></g>
<g id="leaf-KY486143.1" transform="rotate(5)"><text class="l" x="-935" dy=".35em">KY486143.1/China/2015</text></g>
<g id="leaf-HN2202" transform="rotate(8.333)"><text class="l" x="-935" dy=".35em">HN2202</text><circle class="ci" cx="-1072" r="13"/></g>
<g id="leaf-KM496308.1" transform="rotate(11.667)"><text class="l" x="-935" dy=".35em">KM496308.1/China/2013</text></g>
<g id="leaf-MN103405.1" transform="rotate(15)"><text class="l" x="-935" dy=".35em">MN103405.1/China/2020</text></g>
<g id="leaf-MN649256.1" transform="rotate(18.333)"><text class="l" x="-935" dy=".35em">MN649256.1/China/2021</text></g>
<g id="leaf-MK484615.1" transform="rotate(21.667)"><text class="l" x="-935" dy=".35em">MK484615.1/China/2019</text></g>
<g id="leaf-AH2202" transform="rotate(25)"><text class="l" x="-935" dy=".35em">AH2202</text><path class="tri" transform="translate(-1072 0)" d="M-17-13H17L0 17Z"/></g>
<g id="leaf-HN2101" transform="rotate(28.333)"><text class="l" x="-935" dy=".35em">HN2101</text><circle class="ci" cx="-1072" r="13"/></g>
<g id="leaf-HN2201" transform="rotate(31.667)"><text class="l" x="-935" dy=".35em">HN2201</text><circle class="ci" cx="-1072" r="13"/></g>
<g id="leaf-HB2201" transform="rotate(35)"><text class="l" x="-935" dy=".35em">HB2201</text><use href="#star" x="-1072" class="st"/></g>
<g id="leaf-MW660821.1" transform="rotate(38.333)"><text class="l" x="-935" dy=".35em">MW660821.1/China/2020</text></g>
<g id="leaf-JS1901" transform="rotate(41.667)"><text class="l" x="-935" dy=".35em">JS1901</text><rect class="sq" x="-1084" y="-12" width="24" height="24"/></g>
<g id="leaf-MZ540762.1" transform="rotate(45)"><text class="l" x="-935" dy=".35em">MZ540762.1/China/2022</text></g>
<g id="leaf-KU645511.1" transform="rotate(48.333)"><text class="l" x="-935" dy=".35em">KU645511.1/China/2014</text></g>
<g id="leaf-KU645510.1" transform="rotate(51.667)"><text class="l" x="-935" dy=".35em">KU645510.1/China/2015</text></g>
<g id="leaf-KC414026.1" transform="rotate(55)"><text class="l" x="-935" dy=".35em">KC414026.1/China/2012</text></g>
<g id="leaf-KF224927.1" transform="rotate(58.333)"><text class="l" x="-935" dy=".35em">KF224927.1/China/2013</text></g>
<g id="leaf-KU645506.1" transform="rotate(61.667)"><text class="l" x="-935" dy=".35em">KU645506.1/China/2015</text></g>
<g id="leaf-KU645519.1" transform="rotate(65)"><text class="l" x="-935" dy=".35em">KU645519.1/China/2015</text></g>
<g id="leaf-AH2101" transform="rotate(68.333)"><text class="l" x="-935" dy=".35em">AH2101</text><path class="tri" transform="translate(-1072 0)" d="M-17-13H17L0 17Z"/></g>
<g id="leaf-HN2001" transform="rotate(71.667)"><text class="l" x="-935" dy=".35em">HN2001</text><circle class="ci" cx="-1072" r="13"/></g>
<g id="leaf-JS2101" transform="rotate(75)"><text class="l" x="-935" dy=".35em">JS2101</text><rect class="sq" x="-1084" y="-12" width="24" height="24"/></g>
<g id="leaf-HB2103" transform="rotate(78.333)"><text class="l" x="-935" dy=".35em">HB2103</text><use href="#star" x="-1072" class="st"/></g>
</g>
<g id="legend-bootstrap" class="lg">
<text class="h" x="57" y="229">Bootstrap values</text>
<circle cx="71" cy="290" r="7" fill="#000"/>
<text x="113" y="305" font-size="42">&gt;90%</text>
<circle cx="71" cy="353" r="7" fill="#ababab"/>
<text x="113" y="368" font-size="42">70–90%</text>
</g>
<g id="legend-province" class="lg">
<text class="h" x="53" y="496">Isolation Province</text>
<use href="#star" transform="translate(71 546) scale(0.68)" fill="#F01C1C"/>
<text x="100" y="560" font-size="38">Hubei</text>
<rect x="62" y="601" width="18" height="18" fill="#4A12E4"/>
<text x="100" y="624" font-size="38">Jangsu</text>
<circle cx="71" cy="673" r="9.5" fill="#1FE03A"/>
<text x="100" y="687" font-size="38">Henan</text>
<path d="M58 746H84L71 725Z" fill="#111"/>
<text x="100" y="750" font-size="38">Anhui</text>
</g>
<g id="legend-branch" class="lg">
<text class="h" x="2712" y="192">Branch</text>
<rect x="2751" y="226" width="68" height="67" rx="2" fill="#8DD3C7"/>
<rect x="2751" y="305" width="68" height="67" rx="2" fill="#FFFFB3"/>
<rect x="2751" y="384" width="68" height="67" rx="2" fill="#BEBADA"/>
<rect x="2751" y="462" width="68" height="67" rx="2" fill="#FB8072"/>
<rect x="2751" y="541" width="68" height="67" rx="2" fill="#80B1D3"/>
<rect x="2751" y="620" width="68" height="67" rx="2" fill="#FDB462"/>
<rect x="2751" y="699" width="68" height="67" rx="2" fill="#B3DE69"/>
<rect x="2751" y="778" width="68" height="67" rx="2" fill="#FCCDE5"/>
<text x="2840" y="275" font-size="42">A</text>
<text x="2840" y="354" font-size="42">B</text>
<text x="2840" y="433" font-size="42">C</text>
<text x="2840" y="511" font-size="42">D</text>
<text x="2840" y="590" font-size="42">E</text>
<text x="2840" y="669" font-size="42">F</text>
<text x="2840" y="748" font-size="42">G</text>
<text x="2840" y="827" font-size="42">H</text>
</g>
<g id="tree-scale" class="lg">
<text class="h" x="143" y="2584">Tree scale</text>
<text class="h" x="444" y="2571" text-anchor="middle">0.01</text>
<rect x="372" y="2582" width="146" height="10" fill="#000"/>
</g>
</svg>
